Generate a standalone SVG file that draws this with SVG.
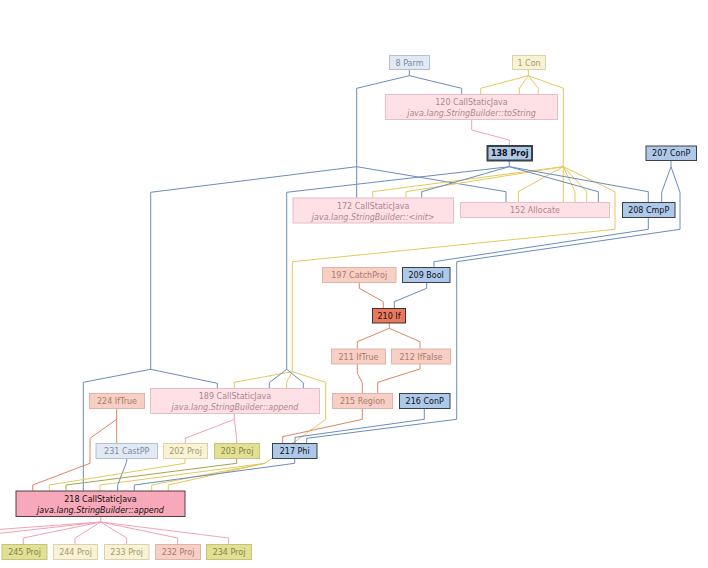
<svg xmlns="http://www.w3.org/2000/svg" width="708" height="568" viewBox="0 0 708 568">
<style>
text{font-family:"DejaVu Sans","Liberation Sans",sans-serif;font-size:8px;text-anchor:middle}
.it{font-style:italic}
.e{fill:none;stroke-width:1}
.eb{stroke:#6a8dbd}.ey{stroke:#e6c85a}.ep{stroke:#f2a3b5}.er{stroke:#e08468}.eo{stroke:#a6a450}
.parm rect{fill:#e1e9f4;stroke:#b4c0d0}.parm text{fill:#7d8aa0}
.con rect{fill:#f9f2d4;stroke:#ddd3a8}.con text{fill:#a39a70}
.pk rect{fill:#fde1e7;stroke:#e9bcc6}.pk text{fill:#b0848e}
.sa rect{fill:#f7cfc4;stroke:#e2b3a6}.sa text{fill:#ab7a6c}
.ol rect{fill:#e2e092;stroke:#c5c37c}.ol text{fill:#86844a}
.bl rect{fill:#adc8e8;stroke:#3a4048}.bl text{fill:#101010}
.iff rect{fill:#e9795c;stroke:#403030}.iff text{fill:#101010}
.cs rect{fill:#f8a9b9;stroke:#504045}.cs text{fill:#101010}
</style>
<rect width="708" height="568" fill="#ffffff"/>
<g id="connectors">
<polyline class="e eb" points="409.3,69.3 409.3,75.7 461.7,88.3 461.7,94.3"/>
<polyline class="e eb" points="409.3,75.7 356.7,88.3 356.7,197.7"/>
<polyline class="e eb" points="356.7,166.7 506,191.7 506,202.3"/>
<polyline class="e eb" points="356.7,166.7 150.7,192.3 150.7,369.3 217.3,383.3 217.3,388.3"/>
<polyline class="e eb" points="150.7,369.3 83.3,382.3 83.3,490.7"/>
<polyline class="e ey" points="528.3,69.3 528.3,75.7 480.7,88.3 480.7,94.3"/>
<polyline class="e ey" points="528.3,75.7 519.3,88.3 519.3,94.3"/>
<polyline class="e ey" points="528.3,75.7 538.3,88.3 538.3,94.3"/>
<polyline class="e ey" points="528.3,75.7 563.3,88.3 563.3,202.3"/>
<polyline class="e ey" points="563.3,166.7 372.7,191.7 372.7,197.7"/>
<polyline class="e ey" points="563.3,166.7 406,191.7 406,197.7"/>
<polyline class="e ey" points="563.3,166.7 518.3,191.7 518.3,202.3"/>
<polyline class="e ey" points="563.3,166.7 575,191.7 575,202.3"/>
<polyline class="e ey" points="563.3,166.7 586.7,191.7 586.7,202.3"/>
<polyline class="e ey" points="563.3,166.7 615,191.7 615,229.3 292.3,261.7 292.3,371.7 234.3,382.3 234.3,388.3"/>
<polyline class="e ey" points="292.3,371.7 286.7,382.3 286.7,388.3"/>
<polyline class="e ey" points="292.3,371.7 325.7,382.3 325.7,419.3 265,463.3 100,485 100,490.7"/>
<polyline class="e ey" points="265,463.3 151.7,485 151.7,490.7"/>
<polyline class="e ey" points="265,463.3 168.3,485 168.3,490.7"/>
<polyline class="e eb" points="509.3,160.3 509.3,166.7 421.7,191.7 421.7,197.7"/>
<polyline class="e eb" points="509.3,166.7 286.7,192.3 286.7,369.3 269.3,382.7 269.3,388.3"/>
<polyline class="e eb" points="286.7,369.3 303.3,382.7 303.3,388.3"/>
<polyline class="e eb" points="509.3,166.7 598.3,191.7 598.3,202.3"/>
<polyline class="e eb" points="509.3,166.7 648.3,191.7 648.3,202.3"/>
<polyline class="e ep" points="471.7,119 471.7,130 509.3,140 509.3,145.7"/>
<polyline class="e eb" points="671,160.3 671,166.7 661.7,192.3 661.7,202.3"/>
<polyline class="e eb" points="671,166.7 680,192.3 680,229.3 456.7,261.7 456.7,419.3 306.7,438.3 306.7,443.3"/>
<polyline class="e eb" points="648.3,217.3 648.3,229.3 434,261.7 434,267.3"/>
<polyline class="e eb" points="426.7,282.3 426.7,288.3 394.3,301.7 394.3,308.3"/>
<polyline class="e er" points="359.3,282.3 359.3,288.3 383.3,301.7 383.3,308.3"/>
<polyline class="e er" points="389.3,322.7 389.3,328.3 357.3,341.7 357.3,348.7"/>
<polyline class="e er" points="389.3,328.3 420,341.7 420,348.7"/>
<polyline class="e er" points="357.3,363.7 357.3,373.3 362.3,382.7 362.3,393.3"/>
<polyline class="e er" points="420,363.7 420,369 377.7,382.3 377.7,393.3"/>
<polyline class="e er" points="362.3,408.7 362.3,419.3 282.7,436.7 282.7,443.3"/>
<polyline class="e eb" points="424.3,408.7 424.3,419.3 295,437.3 295,443.3"/>
<polyline class="e er" points="116.7,408.7 116.7,443.3"/>
<polyline class="e er" points="116.7,419.3 90,438.3 90,463.3 32.7,485 32.7,490.7"/>
<polyline class="e eb" points="126.7,458.7 126.7,461.7 117.7,485 117.7,490.7"/>
<polyline class="e ey" points="185,458.7 185,463.3 49.3,485 49.3,490.7"/>
<polyline class="e eo" points="236.7,458.7 236.7,463.3 66,485 66,490.7"/>
<polyline class="e eb" points="294.7,458.7 294.7,463.3 134.3,485 134.3,490.7"/>
<polyline class="e ep" points="234.3,413.7 234.3,419.3 185.3,438.3 185.3,443.3"/>
<polyline class="e ep" points="234.3,419.3 236.7,438.3 236.7,443.3"/>
<polyline class="e ep" points="100.7,516.3 100.7,522 23.3,538 23.3,544.3"/>
<polyline class="e ep" points="100.7,522 75,538 75,544.3"/>
<polyline class="e ep" points="100.7,522 126.7,538 126.7,544.3"/>
<polyline class="e ep" points="100.7,522 177.7,538 177.7,544.3"/>
<polyline class="e ep" points="100.7,522 228.7,538 228.7,544.3"/>
<polyline class="e ep" points="100.7,522 -50,533"/>
<polyline class="e ep" points="100.7,522 -50,539"/>
</g>
<g id="n8" class="parm"><rect x="389.5" y="55.5" width="40" height="14"/><text x="409.5" y="65.8">8 Parm</text></g>
<g id="n1" class="con"><rect x="512.5" y="55.5" width="33" height="14"/><text x="529" y="65.8">1 Con</text></g>
<g id="n120" class="pk"><rect x="385.5" y="94.5" width="172" height="25"/><text x="471.5" y="105">120 CallStaticJava</text><text class="it" x="471.5" y="116">java.lang.StringBuilder::toString</text></g>
<g id="n138" class="bl"><rect x="487.5" y="146" width="44.5" height="14.5" stroke-width="2"/><text x="509.7" y="156.3" font-weight="bold">138 Proj</text></g>
<g id="n207" class="bl"><rect x="646" y="146" width="50.5" height="14.5"/><text x="671.2" y="156.3">207 ConP</text></g>
<g id="n172" class="pk"><rect x="293" y="198" width="160.5" height="25"/><text x="373.2" y="208.5">172 CallStaticJava</text><text class="it" x="373.2" y="219.5">java.lang.StringBuilder::&lt;init&gt;</text></g>
<g id="n152" class="pk"><rect x="460.5" y="202.5" width="149" height="15"/><text x="535" y="213">152 Allocate</text></g>
<g id="n208" class="bl"><rect x="622.5" y="202.5" width="52.5" height="15"/><text x="648.7" y="213">208 CmpP</text></g>
<g id="n197" class="sa"><rect x="322.5" y="267.5" width="73.5" height="15"/><text x="359.2" y="278">197 CatchProj</text></g>
<g id="n209" class="bl"><rect x="402.5" y="267.5" width="47.5" height="15"/><text x="426.2" y="278">209 Bool</text></g>
<g id="n210" class="iff"><rect x="372.5" y="308.5" width="33" height="14.5"/><text x="389" y="318.8">210 If</text></g>
<g id="n211" class="sa"><rect x="331.5" y="349" width="54" height="15"/><text x="358.5" y="359.5">211 IfTrue</text></g>
<g id="n212" class="sa"><rect x="391.5" y="349" width="59" height="15"/><text x="421" y="359.5">212 IfFalse</text></g>
<g id="n224" class="sa"><rect x="89.5" y="393.5" width="55" height="15"/><text x="117" y="404">224 IfTrue</text></g>
<g id="n189" class="pk"><rect x="150.5" y="388.5" width="169" height="25"/><text x="235" y="399">189 CallStaticJava</text><text class="it" x="235" y="410">java.lang.StringBuilder::append</text></g>
<g id="n215" class="sa"><rect x="332.5" y="393.5" width="60" height="15"/><text x="362.5" y="404">215 Region</text></g>
<g id="n216" class="bl"><rect x="399.5" y="393.5" width="50.5" height="15"/><text x="424.7" y="404">216 ConP</text></g>
<g id="n231" class="parm"><rect x="96" y="443.5" width="61.5" height="15"/><text x="126.7" y="454">231 CastPP</text></g>
<g id="n202" class="con"><rect x="163.5" y="443.5" width="44" height="15"/><text x="185.5" y="454">202 Proj</text></g>
<g id="n203" class="ol"><rect x="214.5" y="443.5" width="45" height="15"/><text x="237" y="454">203 Proj</text></g>
<g id="n217" class="bl"><rect x="272.5" y="443.5" width="44.5" height="15"/><text x="294.7" y="454">217 Phi</text></g>
<g id="n218" class="cs"><rect x="16" y="491" width="169" height="25.5"/><text x="100.5" y="501.5">218 CallStaticJava</text><text class="it" x="100.5" y="512.5">java.lang.StringBuilder::append</text></g>
<g id="n245" class="ol"><rect x="2" y="544.5" width="45" height="15"/><text x="24.5" y="555">245 Proj</text></g>
<g id="n244" class="con"><rect x="53.5" y="544.5" width="44" height="15"/><text x="75.5" y="555">244 Proj</text></g>
<g id="n233" class="con"><rect x="104.5" y="544.5" width="44.5" height="15"/><text x="126.7" y="555">233 Proj</text></g>
<g id="n232" class="sa"><rect x="155.5" y="544.5" width="45" height="15"/><text x="178" y="555">232 Proj</text></g>
<g id="n234" class="ol"><rect x="206.5" y="544.5" width="45" height="15"/><text x="229" y="555">234 Proj</text></g>
</svg>
